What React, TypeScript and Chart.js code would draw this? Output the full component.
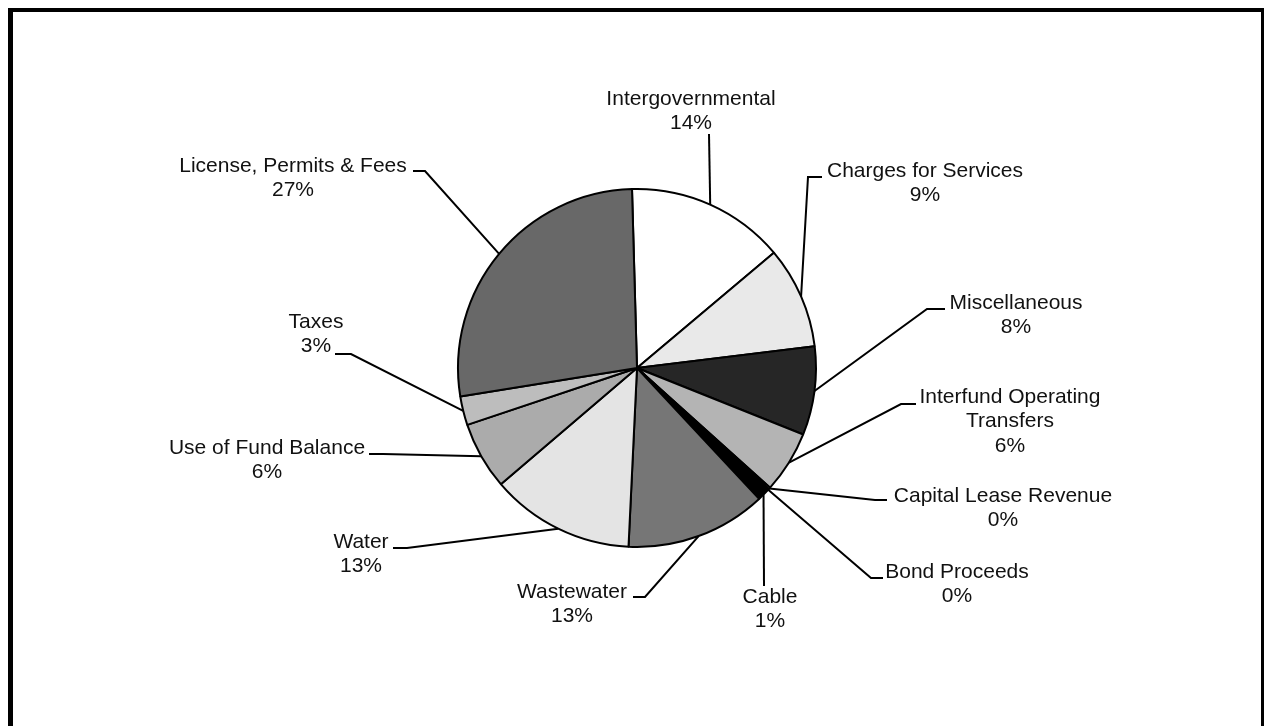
import React, { useEffect, useRef } from "react";
import { Chart, registerables } from "chart.js";

Chart.register(...registerables);

const categories = [
  "Intergovernmental",
  "Charges for Services",
  "Miscellaneous",
  "Interfund Operating Transfers",
  "Capital Lease Revenue",
  "Bond Proceeds",
  "Cable",
  "Wastewater",
  "Water",
  "Use of Fund Balance",
  "Taxes",
  "License, Permits & Fees",
];

const shares = [14.3, 9.2, 8.0, 5.6, 0.2, 0.1, 1.1, 12.7, 13.0, 6.1, 2.6, 27.1];

const fills = [
  "#ffffff",
  "#e9e9e9",
  "#262626",
  "#b4b4b4",
  "#8a8a8a",
  "#4a4a4a",
  "#000000",
  "#767676",
  "#e4e4e4",
  "#ababab",
  "#bdbdbd",
  "#686868",
];

// label layout, offsets from the pie centre (px)
const labelLayout = [
  { lines: ["Intergovernmental"], tx: 54, ty: -269, ex: 72, ey: -234, hx: 72 },
  { lines: ["Charges for Services"], tx: 288, ty: -197, ex: 171, ey: -191, hx: 185 },
  { lines: ["Miscellaneous"], tx: 379, ty: -65, ex: 290, ey: -59, hx: 308 },
  { lines: ["Interfund Operating", "Transfers"], tx: 373, ty: 29, ex: 264, ey: 36, hx: 279 },
  { lines: ["Capital Lease Revenue"], tx: 366, ty: 128, ex: 238, ey: 132, hx: 250 },
  { lines: ["Bond Proceeds"], tx: 320, ty: 204, ex: 234, ey: 210, hx: 246 },
  { lines: ["Cable"], tx: 133, ty: 229, ex: 127, ey: 218, hx: 127 },
  { lines: ["Wastewater"], tx: -65, ty: 224, ex: 8, ey: 229, hx: -4 },
  { lines: ["Water"], tx: -276, ty: 174, ex: -230, ey: 180, hx: -244 },
  { lines: ["Use of Fund Balance"], tx: -370, ty: 80, ex: -254, ey: 86, hx: -268 },
  { lines: ["Taxes"], tx: -321, ty: -46, ex: -286, ey: -14, hx: -302 },
  { lines: ["License, Permits & Fees"], tx: -344, ty: -202, ex: -212, ey: -197, hx: -224 },
];

const labelPlugin = {
  id: "leaderLabels",
  afterDatasetsDraw(chart: any) {
    const ctx = chart.ctx;
    const meta = chart.getDatasetMeta(0);
    const data = chart.data.datasets[0].data as number[];
    const total = data.reduce((a, b) => a + b, 0);
    ctx.save();
    ctx.font = '21px "Liberation Sans", Arial, sans-serif';
    ctx.fillStyle = "#111";
    ctx.strokeStyle = "#000";
    ctx.lineWidth = 2;
    ctx.textAlign = "center";
    ctx.textBaseline = "middle";
    meta.data.forEach((arc: any, i: number) => {
      const p = arc.getProps(["x", "y", "startAngle", "endAngle", "outerRadius"], true);
      const L = labelLayout[i];
      const a = (p.startAngle + p.endAngle) / 2;
      const sx = p.x + p.outerRadius * Math.cos(a);
      const sy = p.y + p.outerRadius * Math.sin(a);
      ctx.beginPath();
      ctx.moveTo(sx, sy);
      ctx.lineTo(p.x + L.ex, p.y + L.ey);
      ctx.lineTo(p.x + L.hx, p.y + L.ey);
      ctx.stroke();
      const pct = Math.round((data[i] / total) * 100) + "%";
      const lines = [...L.lines, pct];
      lines.forEach((t, k) => {
        ctx.fillText(t, p.x + L.tx, p.y + L.ty + k * 24.5);
      });
    });
    ctx.restore();
  },
};

export default function App() {
  const ref = useRef<HTMLCanvasElement>(null);
  useEffect(() => {
    if (!ref.current) return;
    const chart = new Chart(ref.current, {
      type: "pie",
      data: {
        labels: categories,
        datasets: [
          {
            data: shares,
            backgroundColor: fills,
            borderColor: "#000",
            borderWidth: 2,
          },
        ],
      },
      options: {
        responsive: false,
        animation: false,
        rotation: -1.6,
        radius: 179,
        layout: { padding: { left: 10, right: 0, top: 10, bottom: 0 } },
        plugins: {
          legend: { display: false },
          tooltip: { enabled: false },
        },
      },
      plugins: [labelPlugin],
    });
    return () => chart.destroy();
  }, []);

  return (
    <div
      style={{
        position: "fixed",
        left: 0,
        top: 0,
        width: 1264,
        height: 726,
        overflow: "hidden",
        background: "#fff",
      }}
    >
      <canvas ref={ref} width={1264} height={726} style={{ position: "absolute", left: 0, top: 0 }} />
      <div
        style={{
          position: "absolute",
          left: 8,
          top: 8,
          width: 1256,
          height: 800,
          boxSizing: "border-box",
          borderTop: "4px solid #000",
          borderLeft: "5px solid #000",
          borderRight: "3px solid #000",
          pointerEvents: "none",
        }}
      />
    </div>
  );
}
